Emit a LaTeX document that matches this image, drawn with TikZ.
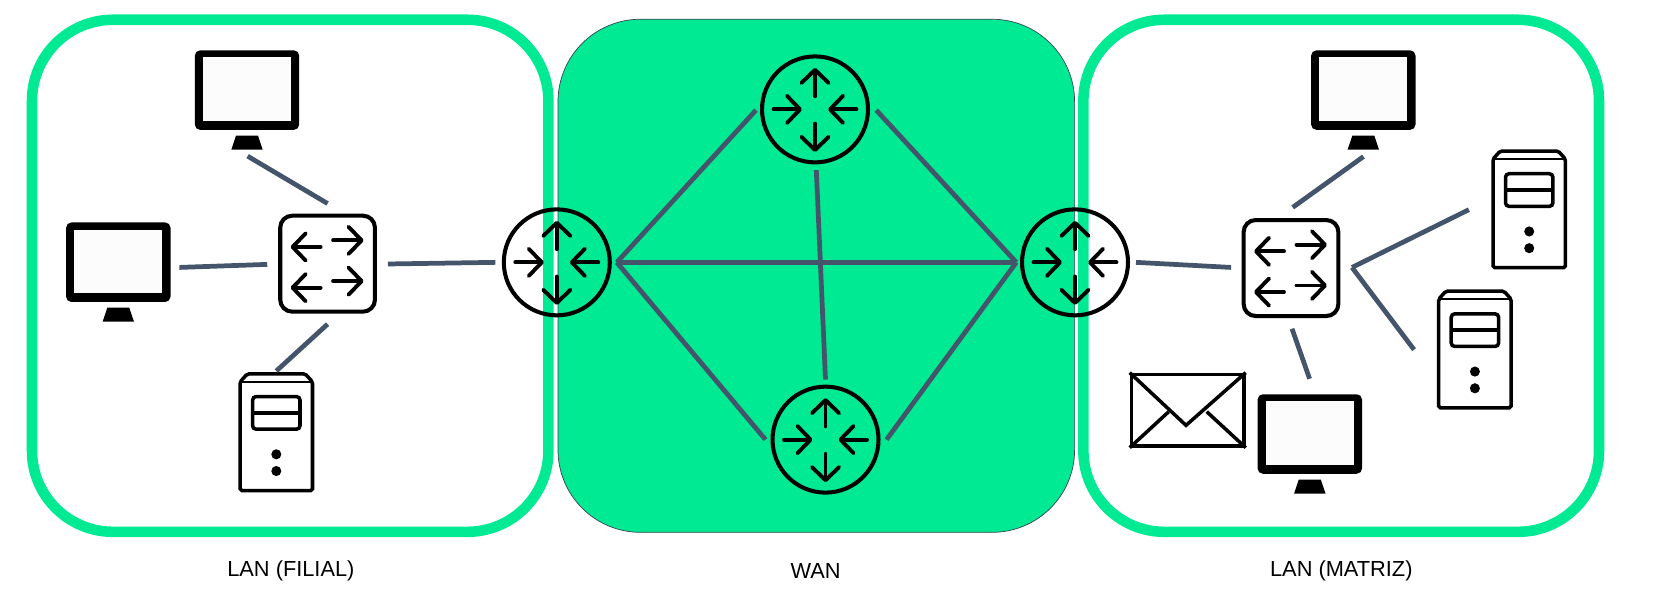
\documentclass[tikz,border=0pt]{standalone}
\usepackage{fontspec}
\setmainfont{Liberation Sans}
\usepackage{tikz}
\usetikzlibrary{arrows.meta,positioning}
\definecolor{langreen}{HTML}{00E993}
\definecolor{linkblue}{HTML}{44546A}
\newcommand{\router}[2]{
  \node (#1) [routerbox] at #2 {};
  \begin{scope}[shift={#2}]
    \draw [iconarrow] (-41.5,0) -- (-13,0);
    \draw [iconarrow] (41.5,0) -- (13,0);
    \draw [iconarrow] (0,-13) -- (0,-41);
    \draw [iconarrow] (0,14) -- (0,42);
  \end{scope}}
\newcommand{\switch}[2]{
  \node (#1) [switchbox] at #2 {};
  \begin{scope}[shift={#2}]
    \draw [iconarrow] (-7,-16.5) -- (-37,-16.5);
    \draw [iconarrow] (-7,23.7) -- (-37,23.7);
    \draw [iconarrow] (5.5,-23) -- (36,-23);
    \draw [iconarrow] (5.5,17.2) -- (36,17.2);
  \end{scope}}
\newcommand{\monitor}[2]{
  \node (#1) [monitorbox] at #2 {};
  \begin{scope}[shift={#2}]
    \fill [rounded corners=3pt] (-52.2,-49) rectangle (52.2,29.5);
    \fill [black!1] (-44,-42) rectangle (44,20.5);
    \fill (-11,35.2) -- (11,35.2) -- (15.7,49) -- (-15.7,49) -- cycle;
  \end{scope}}
\newcommand{\server}[2]{
  \node (#1) [serverbox] at #2 {};
  \begin{scope}[shift={#2}]
    \draw [iconline,rounded corners=1pt] (-36.2,57.6) -- (-36.2,-49.7) -- (-29,-57.6)
          -- (29,-57.6) -- (36.2,-49.7) -- (36.2,57.6) -- cycle;
    \draw [line width=1.3pt] (-36.2,-49.7) -- (36.2,-49.7);
    \draw [iconline,rounded corners=2pt] (-23.7,-35.2) rectangle (23.7,-3);
    \draw [iconline] (-23.7,-19) -- (23.7,-19);
    \fill (0,21.8) circle (5) (0,38.3) circle (5);
  \end{scope}}
\begin{document}
\begin{tikzpicture}
[x=0.02cm,y=-0.02027cm,
lanarea/.style={draw=langreen,line width=6pt,rounded corners=1.62cm},
wanarea/.style={draw=linkblue!80!black,line width=0.4pt,fill=langreen,rounded corners=1.65cm},
link/.style={draw=linkblue,line width=2.7pt},
iconline/.style={line width=2pt},
iconarrow/.style={line width=2.2pt,line cap=round,-{Straight Barb[length=7.5pt,width=15.5pt,round,line width=2.2pt]}},
routerbox/.style={shape=circle,draw,line width=2.3pt,minimum size=2.12cm},
switchbox/.style={shape=rectangle,draw,line width=2.3pt,rounded corners=0.24cm,minimum width=1.895cm,minimum height=1.92cm},
monitorbox/.style={shape=rectangle,minimum width=2.09cm,minimum height=1.986cm},
serverbox/.style={shape=rectangle,minimum width=1.52cm,minimum height=2.404cm},
mailbox/.style={shape=rectangle,draw,fill=white,line width=2pt,minimum width=2.25cm,minimum height=1.43cm},
caption/.style={font=\fontsize{12.4}{15}\selectfont}]
\useasboundingbox (0,0) rectangle (1670,600);

\draw [lanarea] (32,19.5) rectangle (548.4,525);
\draw [wanarea] (558,19) rectangle (1074.6,525.5);
\draw [lanarea] (1083.4,19.5) rectangle (1599,525);

\node (lanfilial) [caption] at (290.9,563.7) {LAN (FILIAL)};
\node (wan) [caption] at (815.5,563.7) {WAN};
\node (lanmatriz) [caption] at (1341.3,563.7) {LAN (MATRIZ)};

\router{r1}{(556.8,259)}
\router{r2}{(815,108)}
\router{r3}{(825.5,434)}
\router{r4}{(1075,259)}
\switch{sw1}{(327.6,260.3)}
\switch{sw2}{(1291,264.6)}
\monitor{m1}{(247,98.7)}
\monitor{m2}{(118.3,268.6)}
\monitor{m3}{(1363.3,98.7)}
\monitor{m4}{(1309.8,438.2)}
\server{s1}{(276.3,426.7)}
\server{s2}{(1529.2,206.7)}
\server{s3}{(1474.9,345)}

% mail
\fill [black!25] (1131.7,370.5) rectangle (1245.7,442.5);
\node (mail) [mailbox] at (1187.7,404.9) {};
\draw [iconline] (mail.north west) -- ++(56.3,52) -- (mail.north east);
\draw [iconline] (mail.south west) -- ++(39,-35.5) (mail.south east) -- ++(-39,-35.5);

% filial
\draw [link] ([shift={(0.6,6.1)}]m1.south) -- ([shift={(0,-10)}]sw1.north);
\draw [link] ([shift={(8.5,-4.6)}]m2.east) -- ([shift={(-11,0.7)}]sw1.west);
\draw [link] ([shift={(0,-0.8)}]s1.north) -- ([shift={(0,10.3)}]sw1.south);
\draw [link] ([shift={(11,0.3)}]sw1.east) -- ([shift={(-6.4,0)}]r1.west);

% wan
\draw [link] ([shift={(5,0)}]r1.east) -- ([shift={(-4,0.7)}]r2.west);
\draw [link] ([shift={(6.2,0.7)}]r2.east) -- ([shift={(-3.7,0)}]r4.west);
\draw [link] ([shift={(5,0)}]r1.east) -- ([shift={(-5,0)}]r3.west);
\draw [link] ([shift={(6,0)}]r3.east) -- ([shift={(-3.7,0)}]r4.west);
\draw [link] ([shift={(5,0)}]r1.east) -- ([shift={(-3.7,0)}]r4.west);
\draw [link] ([shift={(1.3,5.6)}]r2.south) -- ([shift={(0,-5)}]r3.north);

% matriz
\draw [link] ([shift={(6,0)}]r4.east) -- ([shift={(-10.5,-0.6)}]sw2.west);
\draw [link] ([shift={(1.7,-10.5)}]sw2.north) -- ([shift={(0.2,6.5)}]m3.south);
\draw [link] ([shift={(11.6,-0.6)}]sw2.east) -- ([shift={(-22,0.3)}]s2.west);
\draw [link] ([shift={(11.6,-0.6)}]sw2.east) -- ([shift={(-22.5,0.2)}]s3.west);
\draw [link] ([shift={(1,10.5)}]sw2.south) -- ([shift={(-0.2,-14.9)}]m4.north);
\end{tikzpicture}
\end{document}
